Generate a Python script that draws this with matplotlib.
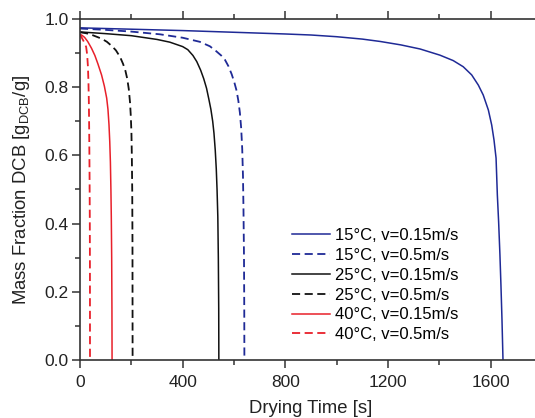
import matplotlib
matplotlib.use("Agg")
import matplotlib.pyplot as plt
from matplotlib.ticker import MultipleLocator

plt.rcParams["font.family"] = ["Liberation Sans", "DejaVu Sans"]
plt.rcParams["mathtext.fontset"] = "custom"
plt.rcParams["mathtext.rm"] = "Liberation Sans"

# drying curves: time [s], mass fraction [g/g]
t_15_015 = [0, 200, 400, 600, 800, 900, 1000, 1100, 1170, 1250, 1325, 1402, 1454,
            1493, 1526, 1552, 1571, 1591, 1604, 1613, 1621, 1626, 1631, 1636, 1640,
            1644, 1648]
y_15_015 = [0.974, 0.970, 0.966, 0.961, 0.956, 0.953, 0.948, 0.941, 0.934, 0.924,
            0.912, 0.894, 0.878, 0.860, 0.836, 0.806, 0.777, 0.733, 0.689, 0.645,
            0.592, 0.484, 0.405, 0.31, 0.22, 0.12, 0.0]

t_15_05 = [0, 100, 200, 312, 400, 467, 506, 530, 550, 565, 578, 591, 601, 610,
           617, 623, 628, 632, 635, 637, 639, 640, 640.5]
y_15_05 = [0.972, 0.968, 0.963, 0.955, 0.945, 0.933, 0.920, 0.906, 0.893, 0.880,
           0.862, 0.838, 0.815, 0.790, 0.760, 0.725, 0.680, 0.620, 0.540, 0.440,
           0.30, 0.15, 0.0]

t_25_015 = [0, 100, 200, 300, 350, 400, 420, 440, 455, 470, 482, 493, 502, 510,
            517, 522, 527, 531, 534, 537, 539, 540.5, 541]
y_25_015 = [0.962, 0.957, 0.951, 0.940, 0.932, 0.919, 0.910, 0.893, 0.875, 0.850,
            0.825, 0.797, 0.765, 0.735, 0.700, 0.665, 0.615, 0.560, 0.500, 0.420,
            0.300, 0.150, 0.0]

t_25_05 = [0, 25, 51, 85, 105, 125, 140, 156, 168, 177, 184, 190, 195, 198, 200.5,
           202, 203.5, 204.5, 205]
y_25_05 = [0.961, 0.958, 0.952, 0.942, 0.933, 0.920, 0.908, 0.889, 0.868, 0.848,
           0.825, 0.795, 0.755, 0.715, 0.665, 0.600, 0.50, 0.35, 0.0]

t_40_015 = [0, 8, 18, 30, 45, 58, 70, 84, 95, 104, 109, 113, 116, 118.5, 120.5,
            122, 123.5, 124.5, 125]
y_40_015 = [0.955, 0.952, 0.946, 0.934, 0.914, 0.893, 0.868, 0.836, 0.803, 0.768,
            0.735, 0.690, 0.640, 0.580, 0.500, 0.420, 0.300, 0.150, 0.0]

t_40_05 = [0, 5, 12, 19, 24, 28, 31, 33, 34.5, 35.5, 36.5, 37.5, 38.3, 38.8, 39]
y_40_05 = [0.955, 0.948, 0.938, 0.928, 0.918, 0.895, 0.860, 0.815, 0.760, 0.700,
           0.620, 0.520, 0.400, 0.250, 0.0]

labels = ["15°C, v=0.15m/s", "15°C, v=0.5m/s", "25°C, v=0.15m/s",
          "25°C, v=0.5m/s", "40°C, v=0.15m/s", "40°C, v=0.5m/s"]

blue = "#1f2a96"
red = "#e8202a"
black = "#111111"

fig = plt.figure(figsize=(5.35, 4.18), dpi=100)
ax = fig.add_axes([0.1495, 0.1388, 0.8636, 0.8158])

dash = (4.5, 2.5)
ax.plot(t_15_015, y_15_015, color=blue, lw=1.1, label=labels[0])
ax.plot(t_15_05, y_15_05, color=blue, lw=1.3, dashes=dash, label=labels[1])
ax.plot(t_25_015, y_25_015, color=black, lw=1.1, label=labels[2])
ax.plot(t_25_05, y_25_05, color=black, lw=1.3, dashes=dash, label=labels[3])
ax.plot(t_40_015, y_40_015, color=red, lw=1.1, label=labels[4])
ax.plot(t_40_05, y_40_05, color=red, lw=1.3, dashes=dash, label=labels[5])

ax.set_xlim(0, 1800)
ax.set_ylim(0, 1.0)
ax.xaxis.set_major_locator(MultipleLocator(400))
ax.xaxis.set_minor_locator(MultipleLocator(200))
ax.yaxis.set_major_locator(MultipleLocator(0.2))
ax.yaxis.set_minor_locator(MultipleLocator(0.1))
ax.yaxis.set_major_formatter(plt.FormatStrFormatter("%.1f"))

for s in ax.spines.values():
    s.set_linewidth(1.2)
    s.set_color("#333333")
ax.tick_params(which="both", direction="out", color="#333333", width=1.1,
               labelsize=12.5, top=True, right=False, labelcolor="#222222")
ax.tick_params(which="major", length=6, pad=2)
ax.tick_params(which="minor", length=3.5)
ax.tick_params(axis="x", which="major", pad=5)

ax.set_xlabel("Drying Time [s]", fontsize=13.3, color="#222222", labelpad=7)
ax.set_ylabel(r"Mass Fraction DCB [g$_\mathregular{DCB}$/g]", fontsize=13.3,
              color="#222222", labelpad=9)

ax.legend(loc="upper left", bbox_to_anchor=(0.458, 0.387), frameon=False,
          fontsize=12, handlelength=2.3, handletextpad=0.3, labelspacing=0.29,
          borderpad=0, borderaxespad=0)

fig.savefig("out.png", dpi=100)
